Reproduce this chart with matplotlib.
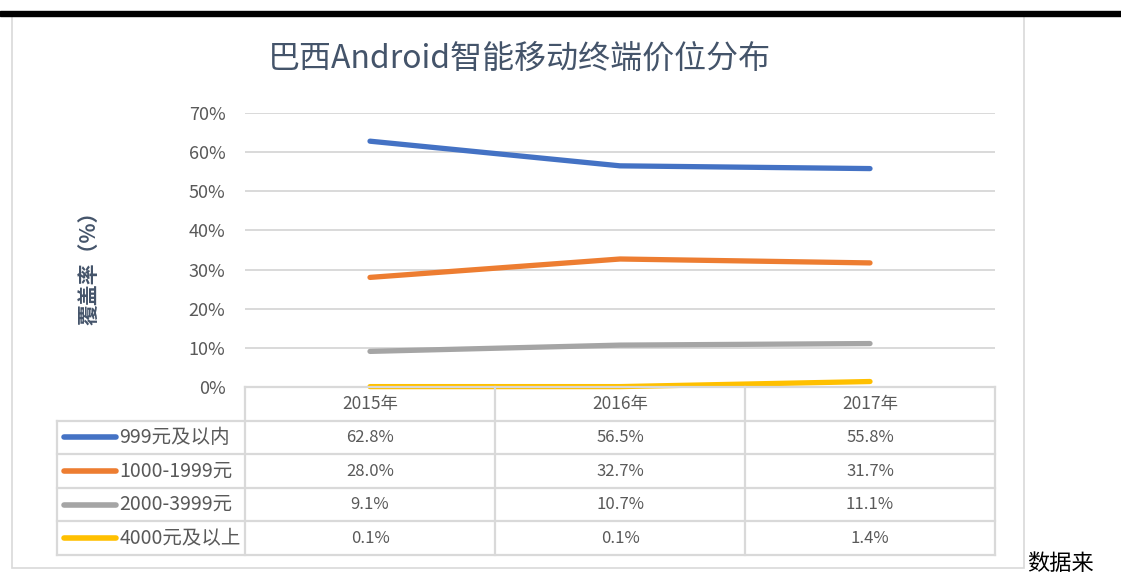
import matplotlib.pyplot as plt
import matplotlib.patches as patches
import matplotlib.lines as mlines

plt.rcParams['font.family'] = ['Noto Sans CJK SC', 'DejaVu Sans']

years = ['2015年', '2016年', '2017年']
series_names = ['999元及以内', '1000-1999元', '2000-3999元', '4000元及以上']
series_values = [
    [62.8, 56.5, 55.8],
    [28.0, 32.7, 31.7],
    [9.1, 10.7, 11.1],
    [0.1, 0.1, 1.4],
]
series_colors = ['#4472C4', '#ED7D31', '#A5A5A5', '#FFC000']
y_ticks = [0, 10, 20, 30, 40, 50, 60, 70]

W, H = 1121, 574
fig = plt.figure(figsize=(W / 100, H / 100), dpi=100)


def fbox(x0, y0, x1, y1):
    # pixel box (top-left origin) -> figure rect
    return [x0 / W, 1 - y1 / H, (x1 - x0) / W, (y1 - y0) / H]


# black bar at top and chart frame
fig.patches.append(patches.Rectangle((0, 1 - 16 / H), 1, 5 / H, transform=fig.transFigure,
                                     color='black', zorder=5))
fig.patches.append(patches.Rectangle((12 / W, 1 - 568 / H), 1012 / W, 552 / H,
                                     transform=fig.transFigure, facecolor='none',
                                     edgecolor='#d9d9d9', lw=1.2, zorder=0))

text_gray = '#595959'
grid_gray = '#d9d9d9'

fig.text(519 / W, 1 - 59 / H, '巴西Android智能移动终端价位分布', ha='center', va='center',
         fontsize=23, color='#44546A')

# line chart
ax = fig.add_axes(fbox(245, 113, 995, 387))
ax.patch.set_visible(False)
x = range(len(years))
for vals, c in zip(series_values, series_colors):
    ax.plot(x, vals, color=c, lw=3.8, solid_capstyle='round', clip_on=False, zorder=3)
ax.set_xlim(-0.5, len(years) - 0.5)
ax.set_ylim(0, 70)
ax.set_yticks(y_ticks)
ax.set_yticklabels([f'{t}%' for t in y_ticks], fontsize=13, color=text_gray)
ax.set_xticks([])
ax.tick_params(axis='y', length=0, pad=14)
for t in y_ticks[1:]:
    ax.axhline(t, color=grid_gray, lw=1.4, zorder=1)
for s in ax.spines.values():
    s.set_visible(False)
ax.set_ylabel('覆盖率（%）', fontsize=15, fontweight='heavy', color='#44546A', labelpad=0)
ax.yaxis.set_label_coords(-(245 - 99) / 750, 0.455)

# data table
tx0 = -0.5 - (245 - 57) / 250
tab = fig.add_axes(fbox(57, 387, 995, 555))
tab.set_xlim(tx0, len(years) - 0.5)
tab.set_ylim(len(series_names) + 1, 0)
tab.axis('off')
nrows = len(series_names) + 1
tab.plot([-0.5, len(years) - 0.5], [0, 0], color=grid_gray, lw=1.6, clip_on=False)
for r in range(1, nrows + 1):
    tab.plot([tx0, len(years) - 0.5], [r, r], color=grid_gray, lw=1.6, clip_on=False)
tab.plot([tx0, tx0], [1, nrows], color=grid_gray, lw=1.6, clip_on=False)
for c in range(len(years) + 1):
    tab.plot([c - 0.5, c - 0.5], [0, nrows], color=grid_gray, lw=1.6, clip_on=False)

for j, yr in enumerate(years):
    tab.text(j, 0.5, yr, ha='center', va='center', fontsize=12.5, color=text_gray)
for i, (name, vals, c) in enumerate(zip(series_names, series_values, series_colors)):
    yc = i + 1.5
    tab.add_line(mlines.Line2D([tx0 + 0.028, tx0 + 0.235], [yc, yc], color=c, lw=4,
                               solid_capstyle='round'))
    tab.text(tx0 + 0.25, yc, name, ha='left', va='center', fontsize=14, color=text_gray)
    for j, v in enumerate(vals):
        tab.text(j, yc, f'{v:.1f}%', ha='center', va='center', fontsize=12, color=text_gray)

fig.text(1027 / W, 1 - 563 / H, '数据来', ha='left', va='center', fontsize=16, color='black')

fig.savefig('out.png', dpi=100)
